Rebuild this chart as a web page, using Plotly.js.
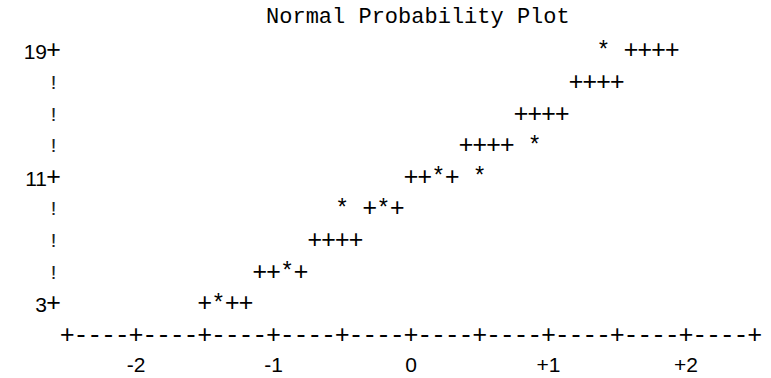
<!DOCTYPE html>
<html>
<head>
<meta charset="utf-8">
<script src="https://cdn.plot.ly/plotly-3.0.1.min.js"></script>
<style>html,body{margin:0;padding:0;background:#fff;}#chart{width:771px;height:378px;}</style>
</head>
<body>
<div id="chart"></div>
<script>
// Reference line characters (+)
const plusX = [-1.5,-1.3,-1.2, -1.1,-1.0,-0.8, -0.7,-0.6,-0.5,-0.4, -0.3,-0.1, 0.0,0.1,0.3, 0.4,0.5,0.6,0.7, 0.8,0.9,1.0,1.1, 1.2,1.3,1.4,1.5, 1.6,1.7,1.8,1.9];
const plusY = [3,3,3, 5,5,5, 7,7,7,7, 9,9, 11,11,11, 13,13,13,13, 15,15,15,15, 17,17,17,17, 19,19,19,19];
// Observations (*)
const starX = [-1.4, -0.9, -0.5, -0.2, 0.2, 0.5, 0.9, 1.4];
const starY = [3, 5, 9, 9, 11, 11, 13, 19];
// Axis ticks
const xTickVals = [-2, -1, 0, 1, 2];
const xTickText = ['-2', '-1', '0', '+1', '+2'];
const yTickVals = [3, 11, 19];
const yTickText = ['3', '11', '19'];
const yRows = [3, 5, 7, 9, 11, 13, 15, 17, 19];

const MONO = '"Liberation Mono", "DejaVu Sans Mono", monospace';
const SANS = '"Liberation Sans", Arial, sans-serif';
const plusFont = {family: MONO, size: 25, color: '#000'};
const starFont = {family: MONO, size: 23, color: '#000'};
const bangFont = {family: MONO, size: 21, color: '#222'};

// x-axis drawn as characters "+----+----..."
const axX = [], axT = [];
for (let i = -25; i <= 25; i++) {
  axX.push(i / 10);
  axT.push(i % 5 === 0 ? '+' : '-');
}
const axY = axX.map(() => 1);
// y-axis column
const yAxT = yRows.map(v => yTickVals.includes(v) ? '+' : '!');
const yPlusRows = yRows.filter((v, i) => yAxT[i] === '+');
const yBangRows = yRows.filter((v, i) => yAxT[i] === '!');

const base = {mode: 'text', type: 'scatter', hoverinfo: 'none', showlegend: false, cliponaxis: false};
const traces = [
  Object.assign({x: axX, y: axY, text: axT, textfont: plusFont}, base),
  Object.assign({x: yPlusRows.map(() => -2.6), y: yPlusRows, text: yPlusRows.map(() => '+'), textfont: plusFont}, base),
  Object.assign({x: yBangRows.map(() => -2.6), y: yBangRows, text: yBangRows.map(() => '!'), textfont: bangFont}, base),
  Object.assign({x: plusX, y: plusY, text: plusX.map(() => '+'), textfont: plusFont}, base),
  Object.assign({x: starX, y: starY, text: starX.map(() => '*'), textfont: starFont}, base)
];

const layout = {
  width: 771, height: 378,
  margin: {l: 48, r: 0, t: 40, b: 30},
  paper_bgcolor: '#fff', plot_bgcolor: '#fff',
  title: {text: 'Normal Probability Plot', font: {family: MONO, size: 22, color: '#000'}, x: 0.542, xanchor: 'center', y: 0.96, yanchor: 'middle'},
  xaxis: {range: [(48 - 411) / 137.5, 2.618], showgrid: false, zeroline: false, showline: false, ticks: '',
          tickvals: xTickVals, ticktext: xTickText, tickfont: {family: SANS, size: 21, color: '#000'}, ticklabelstandoff: 2},
  yaxis: {range: [0.28, 19.76], showgrid: false, zeroline: false, showline: false, ticks: '',
          tickvals: yTickVals, ticktext: yTickText, tickfont: {family: SANS, size: 21, color: '#000'}, ticklabelstandoff: 0},
  showlegend: false
};

Plotly.newPlot('chart', traces, layout, {staticPlot: true, displayModeBar: false});
</script>
</body>
</html>
